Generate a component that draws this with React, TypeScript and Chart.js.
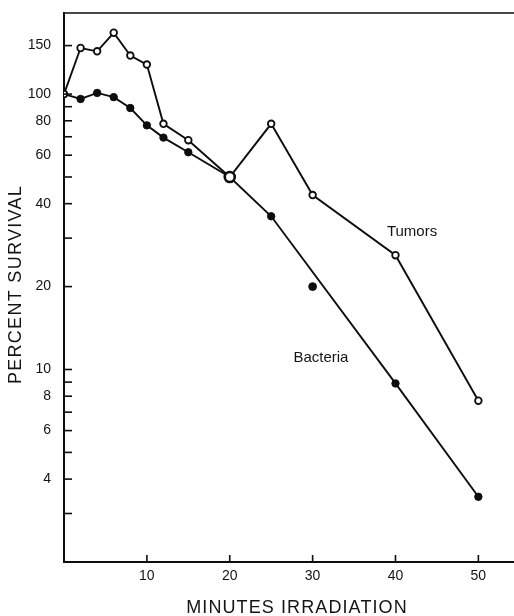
import React, { useEffect, useRef } from "react";
import { Chart, registerables } from "chart.js";

Chart.register(...registerables);

// ---- data ----
const tumorMinutes = [0, 2, 4, 6, 8, 10, 12, 15, 20, 25, 30, 40, 50];
const tumorSurvival = [100, 147, 143, 167, 138, 128, 78, 68, 50, 78, 43, 26, 7.7];

const bacteriaLineMinutes = [0, 2, 4, 6, 8, 10, 12, 15, 20, 25, 40, 50];
const bacteriaLineSurvival = [100, 96, 101, 97.5, 89, 77, 69.5, 61.5, 50, 36, 8.9, 3.45];

const bacteriaOffLineMinutes = [30];
const bacteriaOffLineSurvival = [20];

const xTickValues = [10, 20, 30, 40, 50];
const yTickValues = [3, 4, 5, 6, 7, 8, 9, 10, 20, 30, 40, 50, 60, 70, 80, 90, 100, 150];
const yLabeledTicks = [4, 6, 8, 10, 20, 40, 60, 80, 100, 150];

const seriesNames = ["Tumors", "Bacteria"];
// annotation anchor points (data coordinates)
const tumorLabelAt = { x: 42, y: 31.5 };
const bacteriaLabelAt = { x: 31, y: 11 };

const xTitle = "MINUTES IRRADIATION";
const yTitle = "PERCENT SURVIVAL";

const INK = "#0d0d0d";
const TEXT = "#141414";
const FONT = "'Liberation Sans', Arial, sans-serif";

const toPoints = (xs: number[], ys: number[]) => xs.map((x, i) => ({ x, y: ys[i] }));

const zeroPadding = (scale: any) => {
  scale.paddingTop = 0;
  scale.paddingBottom = 0;
  scale.paddingLeft = 0;
  scale.paddingRight = 0;
};

const decorPlugin = {
  id: "decor",
  afterDatasetsDraw(chart: any) {
    const { ctx, chartArea, scales } = chart;
    const xs = scales.x;
    const ys = scales.y;
    ctx.save();
    ctx.strokeStyle = INK;
    ctx.lineWidth = 1.6;
    // top border
    ctx.beginPath();
    ctx.moveTo(chartArea.left, chartArea.top);
    ctx.lineTo(chartArea.right, chartArea.top);
    ctx.stroke();
    // inward ticks
    yTickValues.forEach((v) => {
      const py = ys.getPixelForValue(v);
      ctx.beginPath();
      ctx.moveTo(chartArea.left, py);
      ctx.lineTo(chartArea.left + 8, py);
      ctx.stroke();
    });
    xTickValues.forEach((v) => {
      const px = xs.getPixelForValue(v);
      ctx.beginPath();
      ctx.moveTo(px, chartArea.bottom);
      ctx.lineTo(px, chartArea.bottom - 7);
      ctx.stroke();
    });
    // series labels
    ctx.fillStyle = TEXT;
    ctx.font = `15px ${FONT}`;
    ctx.textAlign = "center";
    ctx.textBaseline = "middle";
    ctx.fillText(seriesNames[0], xs.getPixelForValue(tumorLabelAt.x), ys.getPixelForValue(tumorLabelAt.y));
    ctx.fillText(seriesNames[1], xs.getPixelForValue(bacteriaLabelAt.x), ys.getPixelForValue(bacteriaLabelAt.y));

    // axis titles (letter-spaced)
    ctx.font = `18px ${FONT}`;
    (ctx as any).letterSpacing = "1.1px";
    ctx.fillText(xTitle, (chartArea.left + chartArea.right) / 2 + 8, chart.height - 8);
    ctx.translate(16, (chartArea.top + chartArea.bottom) / 2 - 3);
    ctx.rotate(-Math.PI / 2);
    (ctx as any).letterSpacing = "1.3px";
    ctx.fillText(yTitle, 0, 0);
    ctx.restore();
  },
};

export default function App() {
  const ref = useRef<HTMLCanvasElement | null>(null);

  useEffect(() => {
    if (!ref.current) return;
    const tumorRadii = tumorMinutes.map((m) => (m === 20 ? 5 : 3.3));
    const tumorBorders = tumorMinutes.map((m) => (m === 20 ? 2.6 : 1.8));
    const chart = new Chart(ref.current, {
      type: "line",
      data: {
        datasets: [
          {
            label: seriesNames[0],
            data: toPoints(tumorMinutes, tumorSurvival),
            borderColor: INK,
            borderWidth: 1.9,
            pointRadius: tumorRadii,
            pointBorderWidth: tumorBorders,
            pointBackgroundColor: "#fff",
            pointBorderColor: INK,
            tension: 0,
          },
          {
            label: seriesNames[1],
            data: toPoints(bacteriaLineMinutes, bacteriaLineSurvival),
            borderColor: INK,
            borderWidth: 1.9,
            pointRadius: 3.7,
            pointBorderWidth: 1,
            pointBackgroundColor: INK,
            pointBorderColor: INK,
            tension: 0,
          },
          {
            label: seriesNames[1] + " (off line)",
            data: toPoints(bacteriaOffLineMinutes, bacteriaOffLineSurvival),
            showLine: false,
            borderColor: INK,
            pointRadius: 3.9,
            pointBorderWidth: 1,
            pointBackgroundColor: INK,
            pointBorderColor: INK,
          },
        ],
      },
      options: {
        responsive: false,
        animation: false,
        events: [],
        layout: { autoPadding: false, padding: { top: 13, right: 0, left: 0, bottom: 0 } },
        plugins: { legend: { display: false }, tooltip: { enabled: false } },
        scales: {
          x: {
            type: "linear",
            min: 0,
            max: 54.3,
            afterBuildTicks: (scale: any) => {
              scale.ticks = xTickValues.map((v) => ({ value: v }));
            },
            afterFit: (scale: any) => {
              scale.height = 54;
              zeroPadding(scale);
            },
            grid: { display: false, drawTicks: false },
            border: { display: true, color: INK, width: 2 },
            ticks: {
              padding: 6,
              color: TEXT,
              font: { family: FONT, size: 14 },
              maxRotation: 0,
              autoSkip: false,
              callback: (v: any) => String(v),
            },
          },
          y: {
            type: "logarithmic",
            min: 2,
            max: 197,
            afterBuildTicks: (scale: any) => {
              scale.ticks = yTickValues.map((v) => ({ value: v }));
            },
            afterFit: (scale: any) => {
              scale.width = 64;
              zeroPadding(scale);
            },
            grid: { display: false, drawTicks: false },
            border: { display: true, color: INK, width: 2 },
            ticks: {
              padding: 13,
              color: TEXT,
              font: { family: FONT, size: 14 },
              autoSkip: false,
              callback: (v: any) => (yLabeledTicks.includes(Number(v)) ? String(v) : ""),
            },
          },
        },
      },
      plugins: [decorPlugin],
    });
    return () => chart.destroy();
  }, []);

  return (
    <div style={{ position: "fixed", left: 0, top: 0, width: 514, height: 616, background: "#fff" }}>
      <canvas ref={ref} width={514} height={616} style={{ display: "block" }} />
    </div>
  );
}
